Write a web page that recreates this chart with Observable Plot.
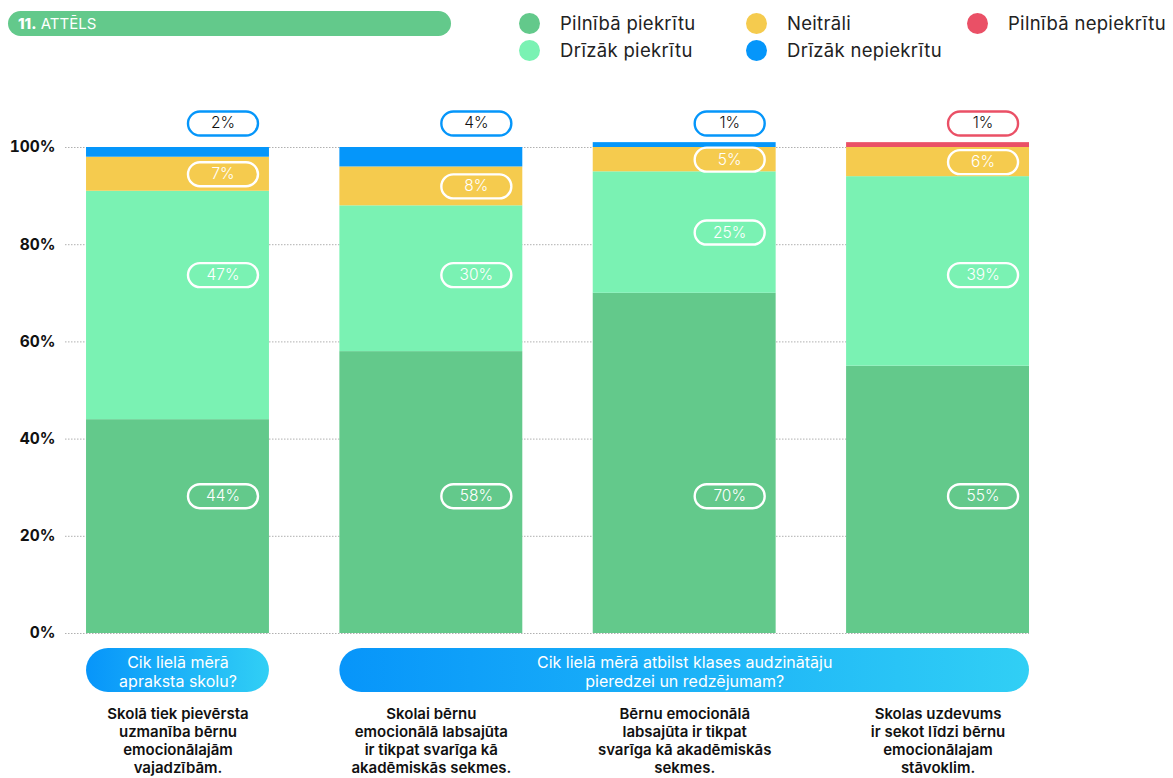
<!DOCTYPE html>
<html>
<head>
<meta charset="utf-8">
<script src="https://cdn.jsdelivr.net/npm/d3@7"></script>
<script src="https://cdn.jsdelivr.net/npm/@observablehq/plot@0.6"></script>
<style>
  html, body { margin: 0; padding: 0; background: #fff; font-family: Inter, "Noto Sans", sans-serif; }
  #header { position: relative; width: 1173px; height: 70px; }
  .title { position: absolute; left: 8px; top: 11px; width: 443px; height: 25px; border-radius: 13px;
           background: #63c98b; color: #fff; font-size: 15px; line-height: 25px; padding-left: 10px; box-sizing: border-box; }
  .title b { font-weight: 800; }
  .lg { position: absolute; height: 22px; display: flex; align-items: center; font-size: 18.5px; letter-spacing: 0.3px; color: #222; white-space: nowrap; }
  .lg span.dot { width: 21px; height: 21px; border-radius: 50%; display: inline-block; margin-right: 20px; }
  g[aria-label^="y-axis"] text { font-weight: 700; font-size: 15.5px; fill: #111; }
</style>
</head>
<body>
<div id="header">
  <div class="title"><b>11.</b> ATTĒLS</div>
  <div id="legend"></div>
</div>
<div id="chart"></div>
<script>
// ---- data ----
const questions = [
  "Skolā tiek pievērsta\nuzmanība bērnu\nemocionālajām\nvajadzībām.",
  "Skolai bērnu\nemocionālā labsajūta\nir tikpat svarīga kā\nakadēmiskās sekmes.",
  "Bērnu emocionālā\nlabsajūta ir tikpat\nsvarīga kā akadēmiskās\nsekmes.",
  "Skolas uzdevums\nir sekot līdzi bērnu\nemocionālajam\nstāvoklim."
];
const series = ["Pilnībā piekrītu", "Drīzāk piekrītu", "Neitrāli", "Drīzāk nepiekrītu", "Pilnībā nepiekrītu"];
const seriesColors = ["#63c98b", "#7af2b3", "#f5cb4e", "#0596fa", "#ea5066"];
const pilnibaPiekritu   = [44, 58, 70, 55];
const drizakPiekritu    = [47, 30, 25, 39];
const neitrali          = [7, 8, 5, 6];
const drizakNepiekritu  = [2, 4, 1, 0];
const pilnibaNepiekritu = [0, 0, 0, 1];
const groupLabels = ["Cik lielā mērā\napraksta skolu?", "Cik lielā mērā atbilst klases audzinātāju\npieredzei un redzējumam?"];
const groupFrom = [0, 1];
const groupTo = [0, 3];
const yTicks = [0, 20, 40, 60, 80, 100];
const legendColumns = [[0, 1], [2, 3], [4]];

// ---- legend (HTML) ----
const legendX = [519, 746, 967];
const legendY = [12, 39];
const legend = document.getElementById("legend");
legendColumns.forEach((col, c) => col.forEach((k, r) => {
  const el = document.createElement("div");
  el.className = "lg";
  el.style.left = legendX[c] + "px";
  el.style.top = legendY[r] + "px";
  el.innerHTML = `<span class="dot" style="background:${seriesColors[k]}"></span>${series[k]}`;
  legend.appendChild(el);
}));

// ---- derived rows ----
const valuesBySeries = [pilnibaPiekritu, drizakPiekritu, neitrali, drizakNepiekritu, pilnibaNepiekritu];
const half = 0.361; // half bar width in band units (style)
const rows = [];
questions.forEach((q, i) => {
  let acc = 0;
  series.forEach((s, k) => {
    const v = valuesBySeries[k][i];
    if (!v) return;
    rows.push({i, s, k, v, y1: acc, y2: acc + v});
    acc += v;
  });
});
const topRows = questions.map((q, i) => rows.filter(d => d.i === i).at(-1));
const isTop = d => topRows.includes(d) && d.v <= 4;
const inside = rows.filter(d => !isTop(d));
const topLabels = rows.filter(isTop);
// align labels of a series across bars where they fit
const levels = series.map((s, k) => d3.median(inside.filter(d => d.k === k), d => (d.y1 + d.y2) / 2));
inside.forEach(d => {
  const lvl = levels[d.k];
  d.ly = (lvl >= d.y1 + 5 && lvl <= d.y2 - 5) ? lvl : (d.y1 + d.y2) / 2;
});
const groups = groupLabels.map((label, j) => ({label, from: groupFrom[j], to: groupTo[j]}));
const qRows = questions.map((q, i) => ({i, q}));

// pill symbol
const pill = {
  draw(context) {
    const w = 70, h = 24, r = 12;
    context.moveTo(-w / 2 + r, -h / 2);
    context.lineTo(w / 2 - r, -h / 2);
    context.arc(w / 2 - r, 0, r, -Math.PI / 2, Math.PI / 2);
    context.lineTo(-w / 2 + r, h / 2);
    context.arc(-w / 2 + r, 0, r, Math.PI / 2, 3 * Math.PI / 2);
    context.closePath();
  }
};

const W = 1173, H = 708, mt = 77, mb = 145;
const frameH = H - mt - mb;

const plot = Plot.plot({
  width: W,
  height: H,
  marginTop: mt,
  marginBottom: mb,
  marginLeft: 65,
  marginRight: 144,
  style: {fontFamily: "Inter, 'Noto Sans', sans-serif", background: "white", overflow: "visible"},
  x: {domain: [-0.444, 3 + half], axis: null},
  y: {domain: [0, 100], ticks: yTicks, tickFormat: d => d + "%", tickSize: 0, tickPadding: 10, label: null},
  color: {domain: series, range: seriesColors},
  marks: [
    Plot.ruleY(yTicks, {stroke: "#b0b0b0", strokeDasharray: "1.5,1.5", strokeWidth: 1}),
    Plot.rect(rows, {x1: d => d.i - half, x2: d => d.i + half, y1: "y1", y2: "y2", fill: "s"}),
    Plot.dot(inside, {x: "i", y: "ly", dx: 45, symbol: pill, fill: "none", stroke: "white", strokeWidth: 2.4}),
    Plot.text(inside, {x: "i", y: "ly", dx: 45, text: d => d.v + "%", fill: "white", fontSize: 15.5, fontWeight: 300}),
    Plot.dot(topLabels, {x: "i", y: 100, dx: 45, dy: -24, symbol: pill, fill: "white", stroke: "s", strokeWidth: 2.4}),
    Plot.text(topLabels, {x: "i", y: 100, dx: 45, dy: -24, text: d => d.v + "%", fill: "#111", fontSize: 15.5, fontWeight: 300}),
    Plot.rect(groups, {x1: d => d.from - half, x2: d => d.to + half, fill: "url(#pillGrad)", rx: 22, ry: 22,
                       insetTop: frameH + 15, insetBottom: -59}),
    Plot.text(groups, {x: d => (d.from + d.to) / 2, text: "label", frameAnchor: "bottom", lineAnchor: "middle", dy: 37.5,
                       fill: "white", fontSize: 16, lineHeight: 1.2}),
    Plot.text(qRows, {x: "i", text: "q", frameAnchor: "bottom", lineAnchor: "top", dy: 73,
                      fill: "#111", fontSize: 15, fontWeight: 600, lineHeight: 1.2})
  ]
});

const defs = d3.select(plot).insert("defs", ":first-child");
const grad = defs.append("linearGradient").attr("id", "pillGrad").attr("x1", "0").attr("x2", "1").attr("y1", "0").attr("y2", "0");
grad.append("stop").attr("offset", "0%").attr("stop-color", "#0795fa");
grad.append("stop").attr("offset", "100%").attr("stop-color", "#31cff5");

document.getElementById("chart").appendChild(plot);
</script>
</body>
</html>
